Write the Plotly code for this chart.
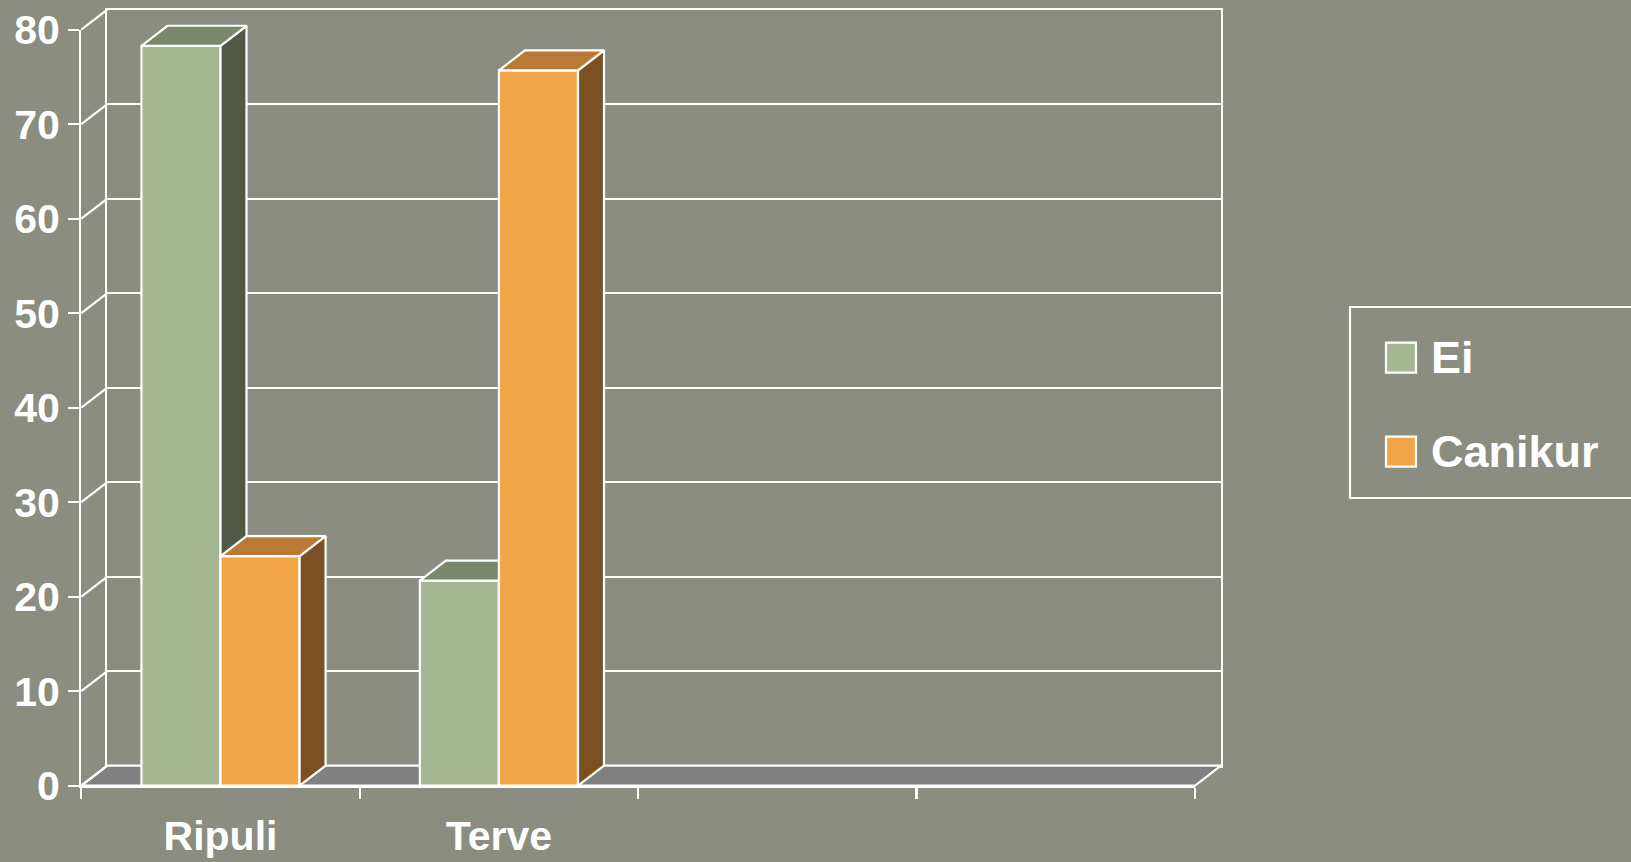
import plotly.graph_objects as go

# ---------------- data ----------------
categories = ["Ripuli", "Terve"]
series_names = ["Ei", "Canikur"]
ei_values = [78.3, 21.7]
canikur_values = [24.3, 75.7]
y_tick_values = [0, 10, 20, 30, 40, 50, 60, 70, 80]
n_slots = 4  # category slots on the axis (two are empty)

# ---------------- styles ----------------
front_colors = ["#a6b592", "#f2a548"]
top_colors = ["#7a876a", "#b87a34"]
side_colors = ["#525a46", "#7b5023"]
floor_color = "#808080"
bg_color = "#8a8d7f"
FONT = "Liberation Sans, Arial, sans-serif"

W, H = 1631, 862
FX0, FX1 = 81.3, 1195.0      # front plane, pixel x of left/right
FY0, FY1 = 785.7, 29.7       # front plane, pixel y of value 0 / value 80
DEPTH_X, DEPTH_Y = 26.0, 20.0
BAR_W = 0.284
Y_MAX = 80
LINE_W = 2.2

x_lo, x_hi = -0.5, n_slots - 0.5
pxu = (FX1 - FX0) / (x_hi - x_lo)
pyu = (FY0 - FY1) / Y_MAX
dx = DEPTH_X / pxu
dy = DEPTH_Y / pyu

full_x_range = [x_lo - FX0 / pxu, x_hi + (W - FX1) / pxu]
full_y_range = [0 - (H - FY0) / pyu, Y_MAX + FY1 / pyu]

fig = go.Figure()

# back wall subplot (x, y)
fig.add_trace(go.Scatter(x=[None], y=[None], xaxis="x", yaxis="y", showlegend=False, hoverinfo="skip"))
# front plane subplot (x2, y2)
fig.add_trace(go.Scatter(x=[None], y=[None], xaxis="x2", yaxis="y2", showlegend=False, hoverinfo="skip"))

# floor and side-wall diagonals (x3, y3)
fig.add_trace(go.Scatter(
    x=[x_lo, x_hi, x_hi + dx, x_lo + dx, x_lo],
    y=[0, 0, dy, dy, 0],
    mode="lines", fill="toself", fillcolor=floor_color,
    line=dict(color="white", width=LINE_W),
    xaxis="x3", yaxis="y3", showlegend=False, hoverinfo="skip"))
diag_x, diag_y = [], []
for t in y_tick_values:
    diag_x += [x_lo, x_lo + dx, None]
    diag_y += [t, t + dy, None]
fig.add_trace(go.Scatter(x=diag_x, y=diag_y, mode="lines",
                         line=dict(color="white", width=LINE_W),
                         xaxis="x3", yaxis="y3", showlegend=False, hoverinfo="skip"))

# bars: each series on its own full-figure subplot so later series sit in front
all_values = [ei_values, canikur_values]
offsets = [-BAR_W, 0.0]
axis_pairs = [("x4", "y4"), ("x5", "y5")]
for s, (name, vals) in enumerate(zip(series_names, all_values)):
    xa, ya = axis_pairs[s]
    xs = list(range(len(categories)))
    fig.add_trace(go.Bar(
        x=xs, y=vals, base=0, width=BAR_W, offset=offsets[s], name=name,
        marker=dict(color=front_colors[s], line=dict(color="white", width=LINE_W)),
        xaxis=xa, yaxis=ya, showlegend=False, hoverinfo="skip"))
    for i, v in enumerate(vals):
        xl = i + offsets[s]
        xr = xl + BAR_W
        # side face
        fig.add_trace(go.Scatter(
            x=[xr, xr + dx, xr + dx, xr, xr],
            y=[0, dy, v + dy, v, 0],
            mode="lines", fill="toself", fillcolor=side_colors[s],
            line=dict(color="white", width=LINE_W),
            xaxis=xa, yaxis=ya, showlegend=False, hoverinfo="skip"))
        # top face
        fig.add_trace(go.Scatter(
            x=[xl, xr, xr + dx, xl + dx, xl],
            y=[v, v, v + dy, v + dy, v],
            mode="lines", fill="toself", fillcolor=top_colors[s],
            line=dict(color="white", width=LINE_W),
            xaxis=xa, yaxis=ya, showlegend=False, hoverinfo="skip"))

hidden = dict(visible=False, showgrid=False, zeroline=False, fixedrange=True)

layout = dict(
    width=W, height=H,
    margin=dict(l=0, r=0, t=0, b=0, autoexpand=False),
    paper_bgcolor=bg_color, plot_bgcolor="rgba(0,0,0,0)",
    barmode="overlay", showlegend=False, hovermode=False,
    # back wall
    xaxis=dict(domain=[(FX0 + DEPTH_X) / W, (FX1 + DEPTH_X) / W], range=[x_lo, x_hi],
               showgrid=False, zeroline=False, showticklabels=False, ticks="",
               showline=True, mirror=True, linecolor="white", linewidth=LINE_W, anchor="y"),
    yaxis=dict(domain=[1 - (FY0 - DEPTH_Y) / H, 1 - (FY1 - DEPTH_Y) / H], range=[0, Y_MAX],
               tickmode="array", tickvals=y_tick_values, showgrid=True,
               gridcolor="white", gridwidth=LINE_W, zeroline=False, showticklabels=False,
               ticks="", showline=True, mirror=True, linecolor="white", linewidth=LINE_W,
               anchor="x"),
    # front plane axes
    xaxis2=dict(domain=[FX0 / W, FX1 / W], range=[x_lo, x_hi], anchor="y2",
                tickmode="array", tickvals=list(range(len(categories))), ticktext=categories,
                ticks="", showgrid=False, zeroline=False,
                showline=True, linecolor="white", linewidth=LINE_W,
                tickfont=dict(family=FONT, size=41, color="white", weight="bold"),
                ticklabelstandoff=13,
                minor=dict(tickmode="array",
                           tickvals=[x_lo + k for k in range(n_slots + 1)],
                           ticks="outside", ticklen=11, tickwidth=LINE_W, tickcolor="white",
                           showgrid=False)),
    yaxis2=dict(domain=[1 - FY0 / H, 1 - FY1 / H], range=[0, Y_MAX], anchor="x2",
                tickmode="array", tickvals=y_tick_values, ticks="outside", ticklen=11,
                tickwidth=LINE_W, tickcolor="white", showgrid=False, zeroline=False,
                showline=True, linecolor="white", linewidth=LINE_W,
                tickfont=dict(family=FONT, size=41, color="white", weight="bold")),
)
for k in (3, 4, 5):
    layout[f"xaxis{k}"] = dict(hidden, domain=[0, 1], range=full_x_range, anchor=f"y{k}")
    layout[f"yaxis{k}"] = dict(hidden, domain=[0, 1], range=full_y_range, anchor=f"x{k}")

fig.update_layout(**layout)

# legend (box, swatches, labels)
LEG_X0, LEG_Y0, LEG_Y1 = 1350, 307, 498
fig.add_shape(type="rect", xref="paper", yref="paper",
              x0=LEG_X0 / W, x1=1.05, y0=1 - LEG_Y1 / H, y1=1 - LEG_Y0 / H,
              line=dict(color="white", width=LINE_W), fillcolor="rgba(0,0,0,0)")
legend_rows = [357.7, 451.7]
SW = 30
for s, name in enumerate(series_names):
    cy = legend_rows[s]
    fig.add_shape(type="rect", xref="paper", yref="paper",
                  x0=1386 / W, x1=(1386 + SW) / W,
                  y0=1 - (cy + SW / 2) / H, y1=1 - (cy - SW / 2) / H,
                  line=dict(color="white", width=LINE_W), fillcolor=front_colors[s])
    fig.add_annotation(text=name, xref="paper", yref="paper",
                       x=1429 / W, y=1 - cy / H, xanchor="left", yanchor="middle",
                       showarrow=False,
                       font=dict(family=FONT, size=45, color="white", weight="bold"))

fig.write_html(
    "out.html",
    config={"displayModeBar": False, "staticPlot": True},
    post_script="document.body.style.margin='0';document.body.style.overflow='hidden';"
                "document.body.style.background='" + bg_color + "';",
)
